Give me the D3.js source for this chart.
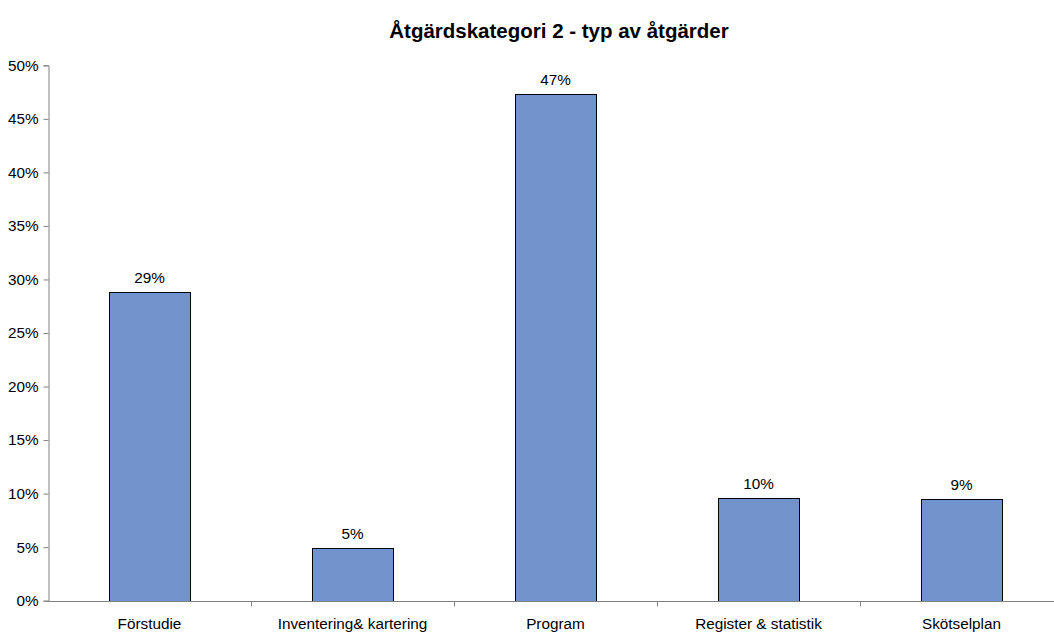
<!DOCTYPE html>
<html><head><meta charset="utf-8">
<script src="https://cdn.jsdelivr.net/npm/d3@7"></script>
<style>body{margin:0;background:#fff}svg{display:block;font-family:"Liberation Sans",Arial,sans-serif}</style>
</head><body><svg id="c" width="1054" height="632"></svg>
<script>
const categories = ["Förstudie", "Inventering& kartering", "Program", "Register & statistik", "Skötselplan"];
const values = [28.8, 4.9, 47.3, 9.6, 9.5];
const valueLabels = ["29%", "5%", "47%", "10%", "9%"];
const yTicks = [0, 5, 10, 15, 20, 25, 30, 35, 40, 45, 50];
const title = "Åtgärdskategori 2 - typ av åtgärder";

const svg = d3.select("#c");
const x0 = 48, catW = 203;
const x = d3.scaleBand().domain(categories).range([x0, x0 + catW * categories.length]).paddingInner(0.6).paddingOuter(0.3);
const y = d3.scaleLinear().domain([0, 50]).range([600.7, 65.3]);
const fs = 15.3;

svg.append("text").attr("x", 559).attr("y", 38).attr("text-anchor", "middle")
  .attr("font-size", 20.5).attr("font-weight", "bold").attr("fill", "#000").text(title);

// bars
svg.selectAll("rect.bar").data(values).enter().append("rect")
  .attr("x", (d, i) => Math.round(x(categories[i])) + 0.5)
  .attr("y", d => Math.round(y(d)) + 0.5)
  .attr("width", Math.round(x.bandwidth()))
  .attr("height", d => Math.round(y(0)) - Math.round(y(d)))
  .attr("fill", "#7293CB").attr("stroke", "#000").attr("stroke-width", 1);

svg.selectAll("text.vl").data(values).enter().append("text")
  .attr("x", (d, i) => x(categories[i]) + x.bandwidth() / 2)
  .attr("y", d => y(d) - 9)
  .attr("text-anchor", "middle").attr("font-size", fs).attr("fill", "#000")
  .text((d, i) => valueLabels[i]);

// y axis
const yAxis = d3.axisLeft(y).tickValues(yTicks).tickFormat(d => d + "%").tickSize(5).tickSizeOuter(5);
const gy = svg.append("g").attr("transform", `translate(${x0 + 0.5},0)`).call(yAxis);
gy.select(".domain").attr("stroke", "#808080");
gy.selectAll(".tick line").attr("stroke", "#808080");
gy.selectAll(".tick text").attr("font-size", fs).attr("fill", "#000").attr("x", -10).attr("font-family", "Liberation Sans, Arial, sans-serif");

// x axis
const xl = d3.scaleLinear().domain([0, categories.length]).range([x0, x0 + catW * categories.length]);
const gx = svg.append("g").attr("transform", `translate(0,${Math.round(y(0)) + 0.5})`);
gx.append("line").attr("x1", x0).attr("x2", x0 + catW * categories.length).attr("stroke", "#808080");
gx.selectAll("line.t").data(d3.range(1, categories.length + 1)).enter().append("line")
  .attr("x1", d => Math.round(xl(d)) + 0.5).attr("x2", d => Math.round(xl(d)) + 0.5)
  .attr("y1", 0).attr("y2", 5).attr("stroke", "#808080");
gx.selectAll("text").data(categories).enter().append("text")
  .attr("x", d => x(d) + x.bandwidth() / 2).attr("y", 27.5)
  .attr("text-anchor", "middle").attr("font-size", fs).attr("fill", "#000").text(d => d);
</script></body></html>
